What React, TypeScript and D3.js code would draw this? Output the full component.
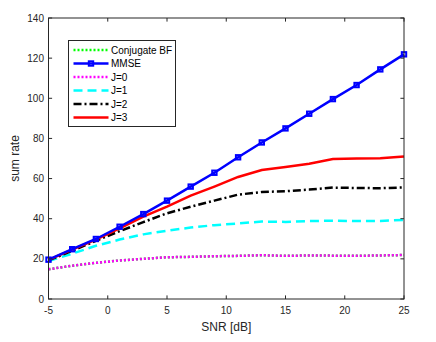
import React from 'react';
import * as d3 from 'd3';

const snr = [-5, -3, -1, 1, 3, 5, 7, 9, 11, 13, 15, 17, 19, 21, 23, 25];
const conjugateBF = [14.8, 16.6, 18, 19.2, 20, 20.8, 21, 21.3, 21.5, 21.8, 21.5, 21.7, 21.6, 21.5, 21.7, 21.9];
const mmse = [19.6, 24.8, 29.9, 36, 42.3, 49, 56, 62.9, 70.6, 78, 85, 92.3, 99.6, 106.6, 114.4, 121.9];
const j0 = [14.8, 16.6, 18, 19.2, 20, 20.8, 21, 21.3, 21.5, 21.8, 21.5, 21.7, 21.6, 21.5, 21.7, 21.9];
const j1 = [18.9, 22.6, 26.5, 29.6, 32.2, 34, 35.6, 36.8, 37.6, 38.6, 38.4, 38.8, 39, 38.8, 38.9, 39.4];
const j2 = [19.2, 24, 29, 33.8, 38.3, 42.7, 46, 49, 52, 53.3, 53.7, 54.5, 55.5, 55.3, 55.2, 55.6];
const j3 = [19.5, 24.6, 29.6, 35.2, 41, 46, 51.5, 56, 60.8, 64.3, 65.8, 67.4, 69.7, 70, 70.1, 71];

const xTicks = [-5, 0, 5, 10, 15, 20, 25];
const yTicks = [0, 20, 40, 60, 80, 100, 120, 140];

const series = [
  { name: 'Conjugate BF', values: conjugateBF, color: '#00ff00', dash: '2,2', marker: false },
  { name: 'MMSE', values: mmse, color: '#0000ff', dash: null, marker: true },
  { name: 'J=0', values: j0, color: '#ff00ff', dash: '2,2', marker: false },
  { name: 'J=1', values: j1, color: '#00ffff', dash: '9,5', marker: false },
  { name: 'J=2', values: j2, color: '#000000', dash: '8,3,2,3', marker: false },
  { name: 'J=3', values: j3, color: '#ff0000', dash: null, marker: false },
];

// green one sits underneath J=0, MMSE drawn last so markers stay on top
const drawOrder = [0, 2, 3, 4, 5, 1];

export default function App() {
  const width = 436, height = 342;
  const left = 48.5, right = 404, top = 18, bottom = 299;
  const x = d3.scaleLinear().domain([-5, 25]).range([left, right]);
  const y = d3.scaleLinear().domain([0, 140]).range([bottom, top]);
  const line = d3.line<number>().x((d, i) => x(snr[i])).y(d => y(d));
  const axisColor = '#262626';
  const font = 'Liberation Sans, Arial, Helvetica, sans-serif';
  const tk = 3.6;

  return (
    <svg width={width} height={height} style={{ position: 'absolute', left: 0, top: 0 }}>
      <rect x={0} y={0} width={width} height={height} fill="#fff" />
      {drawOrder.map(k => {
        const s = series[k];
        return (
          <g key={s.name}>
            <path d={line(s.values) || ''} fill="none" stroke={s.color} strokeWidth={2.5}
              strokeDasharray={s.dash || undefined} />
            {s.marker && s.values.map((v, i) => (
              <rect key={i} x={x(snr[i]) - 2.2} y={y(v) - 2.2} width={4.4} height={4.4}
                fill="none" stroke={s.color} strokeWidth={2} />
            ))}
          </g>
        );
      })}
      <rect x={left} y={top} width={right - left} height={bottom - top} fill="none" stroke={axisColor} strokeWidth={1} />
      {xTicks.map(t => (
        <g key={'x' + t}>
          <line x1={x(t)} x2={x(t)} y1={bottom} y2={bottom - tk} stroke={axisColor} />
          <line x1={x(t)} x2={x(t)} y1={top} y2={top + tk} stroke={axisColor} />
          <text x={x(t)} y={314} textAnchor="middle" fontSize={10} fontFamily={font} fill={axisColor}>{t}</text>
        </g>
      ))}
      {yTicks.map(t => (
        <g key={'y' + t}>
          <line x1={left} x2={left + tk} y1={y(t)} y2={y(t)} stroke={axisColor} />
          <line x1={right} x2={right - tk} y1={y(t)} y2={y(t)} stroke={axisColor} />
          <text x={44} y={y(t) + 3.5} textAnchor="end" fontSize={10} fontFamily={font} fill={axisColor}>{t}</text>
        </g>
      ))}
      <text x={(left + right) / 2} y={331} textAnchor="middle" fontSize={12} fontFamily={font} fill={axisColor}>SNR [dB]</text>
      <text transform={`translate(19,${(top + bottom) / 2}) rotate(-90)`} textAnchor="middle" fontSize={12}
        fontFamily={font} fill={axisColor}>sum rate</text>
      <g>
        <rect x={68.5} y={40.5} width={107} height={86} fill="#fff" stroke={axisColor} strokeWidth={1} />
        {series.map((s, i) => {
          const ly = 50 + i * 13.5;
          return (
            <g key={'l' + s.name}>
              <line x1={73.5} x2={108.5} y1={ly} y2={ly} stroke={s.color} strokeWidth={2.5}
                strokeDasharray={s.dash || undefined} />
              {s.marker && <rect x={91 - 2.2} y={ly - 2.2} width={4.4} height={4.4} fill="none" stroke={s.color} strokeWidth={2} />}
              <text x={111} y={ly + 3.5} fontSize={10} fontFamily={font} fill="#000">{s.name}</text>
            </g>
          );
        })}
      </g>
    </svg>
  );
}
